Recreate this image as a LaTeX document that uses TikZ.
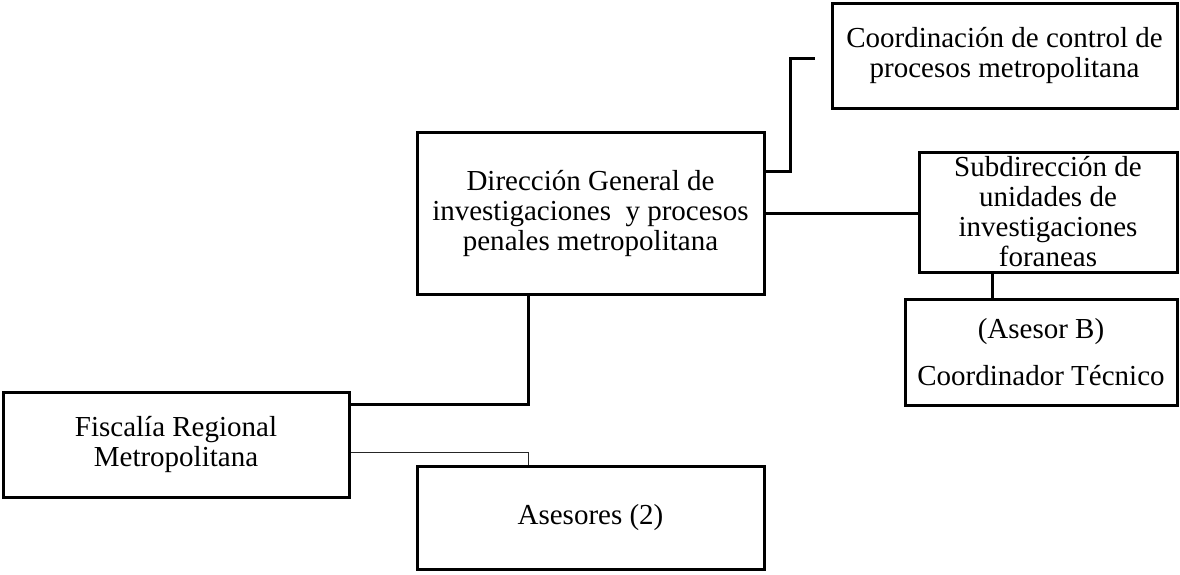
\documentclass[tikz,border=0pt]{standalone}
\usepackage{fontspec}
\setmainfont{Liberation Serif}
\begin{document}
\begin{tikzpicture}[x=1pt,y=-1pt,
  orgbox/.style={draw=black, line width=3pt, rectangle, inner sep=0pt,
    align=center, font=\fontsize{29}{30}\selectfont},
  link/.style={draw=black, line width=3pt},
  thinlink/.style={draw=black!85, line width=1.4pt}]
\useasboundingbox (0,0) rectangle (1180,574);

% boxes
\node[orgbox, minimum width=346pt, minimum height=105pt] (fis) at (176,444.5)
  {Fiscalía Regional\\Metropolitana};
\node[orgbox, minimum width=347pt, minimum height=162pt] (dir) at (590.5,213)
  {Dirección General de\\investigaciones\ \ y procesos\\penales metropolitana};
\node[orgbox, minimum width=347pt, minimum height=103pt] (ase) at (590.5,517.5)
  {Asesores (2)};
\node[orgbox, minimum width=345pt, minimum height=105pt] (coord) at (1004.5,55.5)
  {Coordinación de control de\\procesos metropolitana};
\node[orgbox, minimum width=258pt, minimum height=120pt] (sub) at (1048,212)
  {Subdirección de\\unidades de\\investigaciones\\foraneas};
\node[orgbox, minimum width=272pt, minimum height=106pt] (tec) at (1041,352)
  {(Asesor B)\\[17pt]Coordinador Técnico};

% connectors
\draw[link] ([yshift=-14pt]fis.north east) -| ([xshift=113pt]dir.south west);
\draw[thinlink] ([yshift=-62pt]fis.north east) -| ([xshift=113pt]ase.north west);
\coordinate (cEnd) at ([xshift=-16pt,yshift=-2.5pt]coord.west);
\draw[link] ([yshift=-41pt]dir.north east) -- ++(25,0) |- (cEnd);
\draw[link] (dir.east) -- (dir.east -| sub.west);
\draw[link] ([xshift=-56pt]sub.south) -- ([xshift=-56pt]sub.south |- tec.north);
\end{tikzpicture}
\end{document}
